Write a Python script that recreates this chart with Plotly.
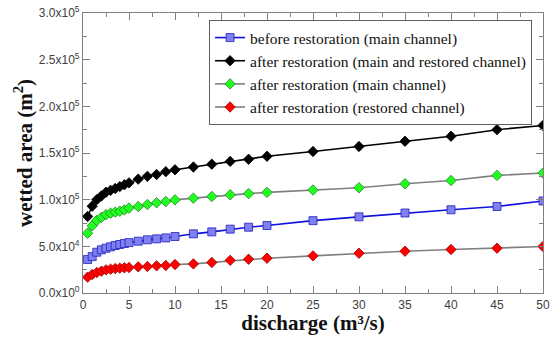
import plotly.graph_objects as go

discharge = [0.5, 1, 1.5, 2, 2.5, 3, 3.5, 4, 4.5, 5, 6, 7, 8, 9, 10, 12, 14, 16, 18, 20, 25, 30, 35, 40, 45, 50]

before_main = [35900, 39000, 43700, 46300, 48000, 49500, 50900, 52000, 53000, 54000, 55500, 57000, 58000, 59000,
               60500, 63400, 65500, 68400, 70500, 72300, 77500, 81600, 85700, 89200, 92700, 98600]
after_total = [82000, 93000, 100000, 104000, 108000, 110000, 112000, 114000, 116000, 118000, 122000, 125000,
               127000, 130000, 132000, 135000, 138000, 141000, 143300, 146500, 151600, 157000, 162600, 168000,
               175000, 179500]
after_main = [64000, 72000, 77700, 81000, 84000, 85500, 86600, 87600, 89000, 91000, 92600, 94800, 96600, 98000,
              99800, 101600, 103400, 105200, 106500, 107800, 110300, 112800, 117000, 120500, 126000, 128500]
after_restored = [17000, 19800, 22000, 23400, 24800, 25500, 26200, 26600, 27000, 27300, 28000, 28400, 29100,
                  29500, 30500, 31200, 32700, 35000, 36200, 37300, 39800, 42600, 44800, 46600, 48000, 49800]

y_tickvals = [0, 50000, 100000, 150000, 200000, 250000, 300000]
y_ticktext = ["0.0x10<sup>0</sup>", "5.0x10<sup>4</sup>", "1.0x10<sup>5</sup>", "1.5x10<sup>5</sup>",
              "2.0x10<sup>5</sup>", "2.5x10<sup>5</sup>", "3.0x10<sup>5</sup>"]
x_tickvals = [0, 5, 10, 15, 20, 25, 30, 35, 40, 45, 50]

series = [
    ("before restoration (main channel)", before_main, "square", "#8080f0", "#2020c0", "#1010e0", 8),
    ("after restoration (main and restored channel)", after_total, "diamond", "#000000", "#000000", "#000000", 8),
    ("after restoration (main channel)", after_main, "diamond", "#20ff20", "#208020", "#808080", 8),
    ("after restoration (restored channel)", after_restored, "diamond", "#ff0000", "#a00000", "#808080", 8),
]

SERIF = "Liberation Serif, Times New Roman, serif"
SANS = "Liberation Sans, Arial, sans-serif"

fig = go.Figure()
for name, vals, sym, fill, edge, line, size in series:
    fig.add_trace(go.Scatter(
        x=discharge, y=vals, name=name, mode="lines+markers",
        line=dict(color=line, width=1.6),
        marker=dict(symbol=sym, size=size, color=fill, line=dict(color=edge, width=0.8)),
    ))

axis_common = dict(
    showline=True, linecolor="#808080", linewidth=1.2, mirror="ticks",
    ticks="inside", tickcolor="#808080", ticklen=7, showgrid=False, zeroline=False,
    tickfont=dict(family=SANS, size=12, color="#404040"), automargin=False,
)
title_font = dict(family=SERIF, size=21, color="#111111", weight="bold")

fig.update_xaxes(
    range=[0, 50], tickvals=x_tickvals,
    minor=dict(dtick=2.5, ticks="inside", ticklen=4, tickcolor="#808080"),
    title=dict(text="discharge (m³/s)", font=title_font, standoff=1),
    **axis_common,
)
fig.update_yaxes(
    range=[0, 300000], tickvals=y_tickvals, ticktext=y_ticktext,
    minor=dict(dtick=25000, ticks="inside", ticklen=4, tickcolor="#808080"),
    title=dict(text="wetted area (m<sup>2</sup>)", font=title_font, standoff=0),
    **axis_common,
)

fig.update_layout(
    width=555, height=338,
    margin=dict(l=83, r=12, t=13, b=45),
    paper_bgcolor="white", plot_bgcolor="white",
    font=dict(family=SERIF),
    legend=dict(
        x=0.274, y=0.975, xanchor="left", yanchor="top",
        bgcolor="white", bordercolor="#606060", borderwidth=1,
        font=dict(family=SERIF, size=15.5, color="#111111"),
        tracegroupgap=0, itemwidth=30,
    ),
    showlegend=True,
)

fig.write_html("out.html", config={"displayModeBar": False},
               post_script="document.body.style.margin='0';document.body.style.overflow='hidden';")
